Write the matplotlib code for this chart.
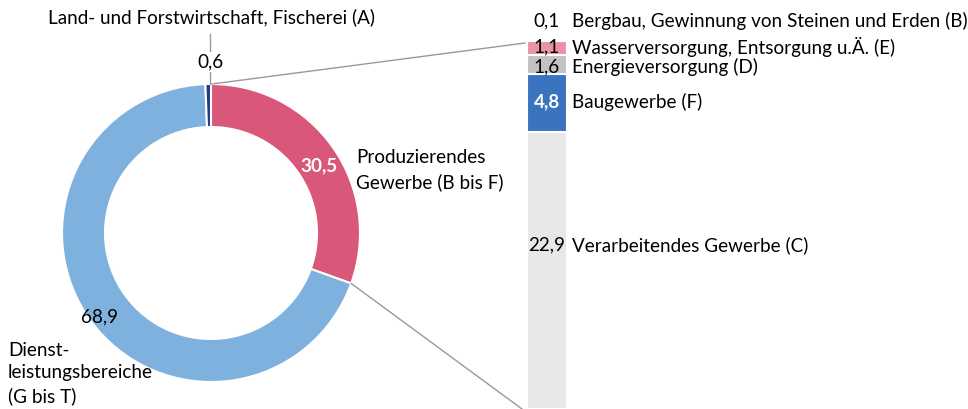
import numpy as np
import matplotlib
matplotlib.use("Agg")
from matplotlib import pyplot as plt

plt.rcParams['font.family'] = ['Lato', 'DejaVu Sans']

# donut: share of sectors (%)
sectors = ['Produzierendes\nGewerbe (B bis F)', 'Dienst-\nleistungsbereiche\n(G bis T)',
           'Land- und Forstwirtschaft, Fischerei (A)']
shares = [30.5, 68.9, 0.6]
share_labels = ['30,5', '68,9', '0,6']
donut_colors = ['#D95879', '#7FB1DF', '#23398A']

# breakdown of Produzierendes Gewerbe, bottom to top
parts = ['Verarbeitendes Gewerbe (C)', 'Baugewerbe (F)', 'Energieversorgung (D)',
         'Wasserversorgung, Entsorgung u.Ä. (E)', 'Bergbau, Gewinnung von Steinen und Erden (B)']
part_vals = [22.9, 4.8, 1.6, 1.1, 0.1]
part_labels = ['22,9', '4,8', '1,6', '1,1', '0,1']
part_colors = ['#E8E8E8', '#3A74BE', '#C2C2C2', '#E993A6', '#6E6E6E']

W, H = 968, 409
fig = plt.figure(figsize=(W / 100, H / 100), dpi=100)
ax = fig.add_axes([0, 0, 1, 1])

cx, cy, R, ring = 211, 176, 149, 43
ax.pie(shares, radius=R, center=(cx, cy), startangle=90, counterclock=False,
       colors=donut_colors, wedgeprops=dict(width=ring, edgecolor='white', linewidth=1.5))
ax.set_xlim(0, W)
ax.set_ylim(0, H)
ax.axis('off')

fs = 13.6
# value labels on the ring (angle in degrees, radius in px)
ax.text(cx + 127 * np.cos(np.radians(32)), cy + 127 * np.sin(np.radians(32)),
        share_labels[0], color='white', fontsize=fs, ha='center', va='center', fontweight='bold')
ax.text(cx + 140 * np.cos(np.radians(217)), cy + 140 * np.sin(np.radians(217)),
        share_labels[1], color='black', fontsize=fs, ha='center', va='center')

ax.text(356, 409 - 170, sectors[0], fontsize=fs, ha='left', va='center', linespacing=1.5)
ax.text(8, 4, sectors[1], fontsize=fs, ha='left', va='bottom', linespacing=1.4)
ax.text(212, 409 - 17, sectors[2], fontsize=fs, ha='center', va='center')
ax.plot([cx - 1, cx - 1], [cy + R, 409 - 34], color='#999999', lw=1)
ax.text(cx - 1, 409 - 62, share_labels[2], fontsize=fs, ha='center', va='center',
        bbox=dict(facecolor='white', edgecolor='none', pad=1))

# connector lines from the Produzierendes wedge to the bar
a0 = np.radians(90)
a1 = np.radians(90 - shares[0] * 3.6)
ax.plot([cx + R * np.cos(a0) + 1, 525], [cy + R * np.sin(a0), 409 - 43], color='#999999', lw=1)
ax.plot([cx + R * np.cos(a1), 522], [cy + R * np.sin(a1), 0], color='#999999', lw=1)

# stacked bar
bx = fig.add_axes([527 / W, 0, 40 / W, 369 / H])
bottom = 0
mids = []
for v, c in zip(part_vals, part_colors):
    bx.bar(0, v, bottom=bottom, width=1, color=c, edgecolor='white', linewidth=1.5)
    mids.append(bottom + v / 2)
    bottom += v
bx.set_xlim(-0.5, 0.5)
bx.set_ylim(0, sum(part_vals))
bx.axis('off')

# label heights (small segments nudged apart)
label_y = [mids[0] + 2.1, mids[1] + 0.1, mids[2] - 0.2, mids[3] + 0.05, mids[4] + 1.65]
val_colors = ['black', 'white', 'black', 'black', 'black']
for name, lab, y, vc in zip(parts, part_labels, label_y, val_colors):
    bx.text(0, y, lab, color=vc, fontsize=fs, ha='center', va='center', clip_on=False,
            fontweight='bold' if vc == 'white' else 'normal')
    bx.text(0.62, y, name, fontsize=fs, ha='left', va='center', clip_on=False)

fig.savefig('out.png', dpi=100)
